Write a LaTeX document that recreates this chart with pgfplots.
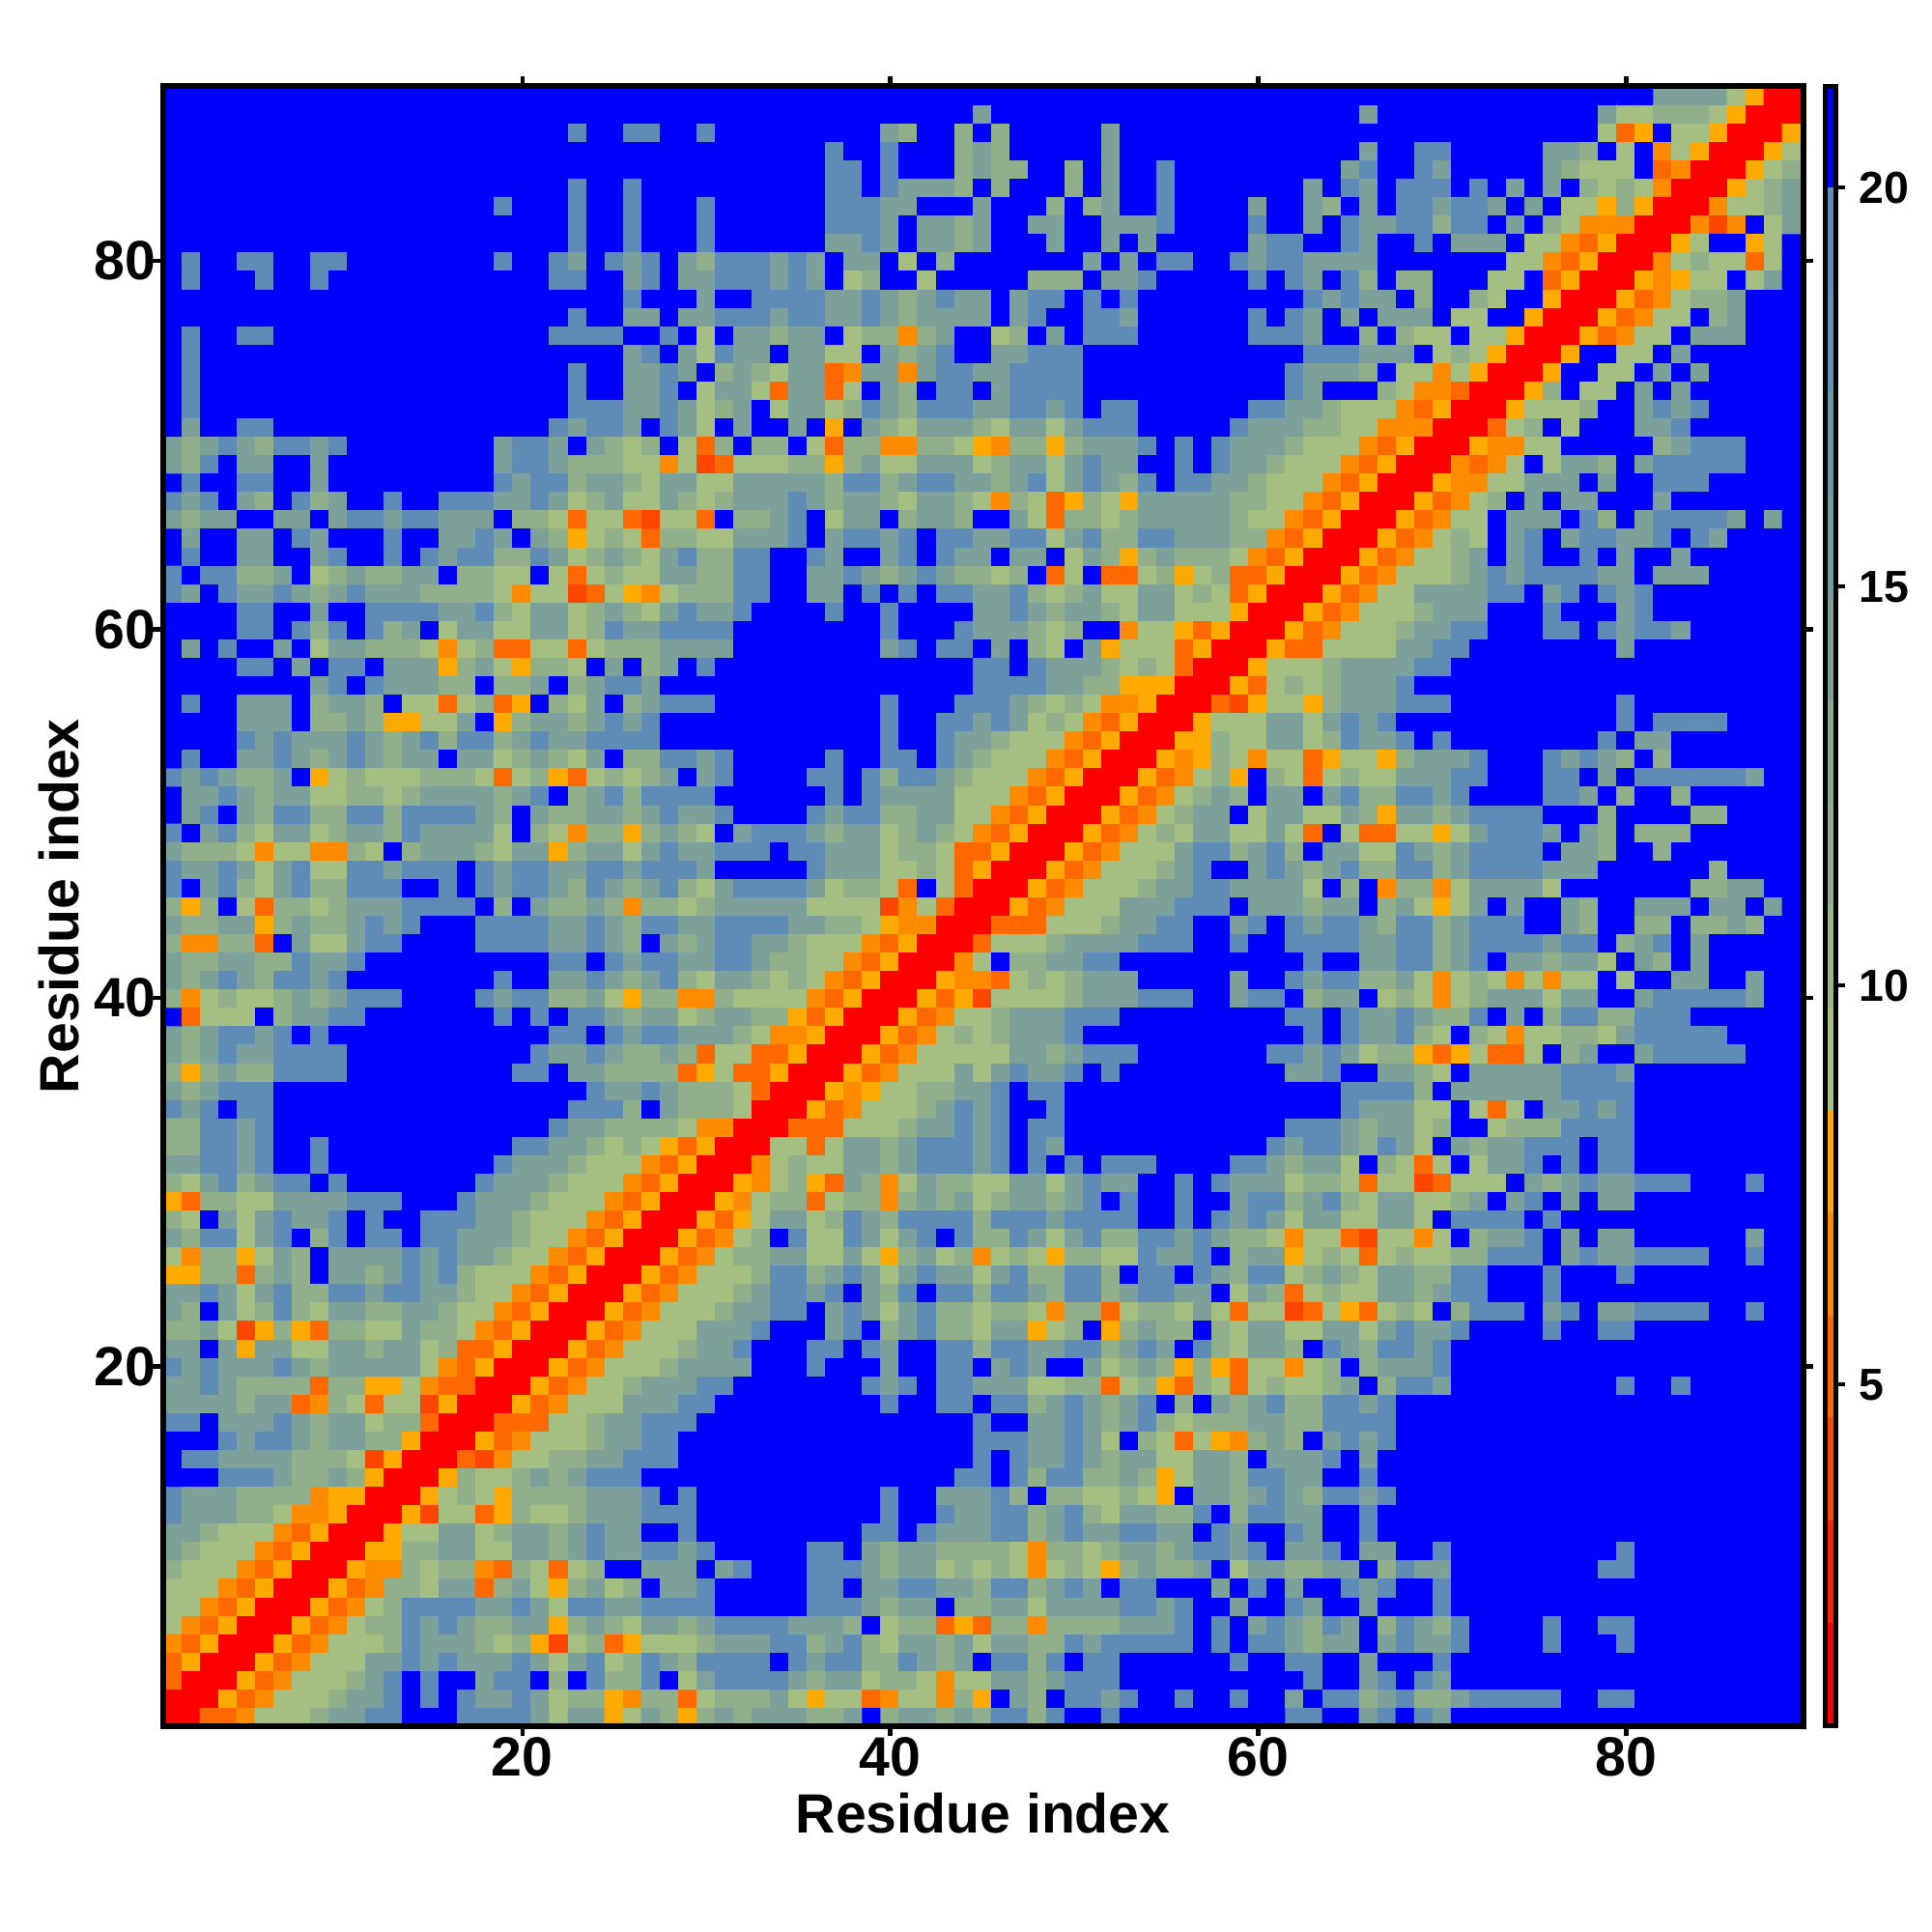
\documentclass[border=0pt]{standalone}
\usepackage{fontspec}
\usepackage{pgfplots}
\pgfplotsset{compat=1.18}
\setmainfont{Liberation Sans}
\newfontfamily\labfont{Liberation Sans Bold}
\newcount\cx \newcount\cy \newcount\limc \cy=89
\newtoks\rowtoks \newtoks\alltoks
\def\addcell#1{\advance\cx 1 \edef\tmpa{\the\rowtoks\the\cx\space\the\cy\space#1\noexpand\\}\rowtoks\expandafter{\tmpa}}
\def\scan#1 {\ifx @#1\else\ifnum\cx<\limc\addcell{#1}\fi\expandafter\scan\fi}
\def\pad{\ifnum\cx<\limc\addcell{9}\expandafter\pad\fi}
\def\doblock#1#2{\limc=#2\relax\scan#1 @ \pad}
\def\R#1#2#3{\cx=0 \rowtoks={}\doblock{#1}{30}\doblock{#2}{60}\doblock{#3}{89}\edef\tmpb{\the\rowtoks\the\alltoks}\alltoks\expandafter{\tmpb}\advance\cy -1 }
% values: classes 0 (nearest) ... 9 (farthest); rows from residue 89 down to residue 1
\R{9 9 9 9 9 9 9 9 9 9  9 9 9 9 9 9 9 9 9 9  9 9 9 9 9 9 9 9 9 9}{9 9 9 9 9 9 9 9 9 9  9 9 9 9 9 9 9 9 9 9  9 9 9 9 9 9 9 9 9 9}{9 9 9 9 9 9 9 9 9 9  9 9 9 9 9 9 9 9 9 9  9 7 7 7 7 5 4 0 0}
\R{9 9 9 9 9 9 9 9 9 9  9 9 9 9 9 9 9 9 9 9  9 9 9 9 9 9 9 9 9 9}{9 9 9 9 9 9 9 9 9 9  9 9 9 9 7 9 9 9 9 9  9 9 9 9 9 9 9 9 9 9}{9 9 9 9 9 7 9 9 9 9  9 9 9 9 9 9 9 9 7 5  5 6 6 6 5 4 0 0 0}
\R{9 9 9 9 9 9 9 9 9 9  9 9 9 9 9 9 9 9 9 9  9 9 8 9 9 8 8 9 9 8}{9 9 9 9 9 9 9 9 9 7  6 9 9 6 9 6 9 9 9 9  9 7 9 9 9 9 9 9 9 9}{9 9 9 9 9 9 9 9 9 9  9 9 9 9 9 9 9 9 5 2  4 9 5 5 4 0 0 0 4}
\R{9 9 9 9 9 9 9 9 9 9  9 9 9 9 9 9 9 9 9 9  9 9 9 9 9 9 9 9 9 9}{9 9 9 9 9 9 8 9 9 8  9 9 9 6 7 6 9 9 9 9  9 7 9 9 9 9 9 9 9 9}{9 9 9 9 9 7 9 9 8 8  9 9 9 9 9 7 7 6 9 5  9 3 5 4 0 0 0 4 5}
\R{9 9 9 9 9 9 9 9 9 9  9 9 9 9 9 9 9 9 9 9  9 9 9 9 9 9 9 9 9 9}{9 9 9 9 9 9 8 8 9 8  9 9 9 6 7 6 6 9 9 6  9 7 9 9 8 9 9 9 9 9}{9 9 9 9 7 8 9 9 8 7  9 9 9 9 9 7 6 5 5 5  9 2 3 0 0 0 4 5 6}
\R{9 9 9 9 9 9 9 9 9 9  9 9 9 9 9 9 9 9 9 9  9 9 8 9 9 8 9 9 9 9}{9 9 9 9 9 9 8 8 9 8  7 7 7 6 9 6 9 9 9 6  9 7 9 9 8 9 9 9 9 9}{9 9 7 9 8 7 9 8 8 8  9 8 9 7 9 7 9 6 5 6  5 3 0 0 0 4 5 6 7}
\R{9 9 9 9 9 9 9 9 9 9  9 9 9 9 9 9 9 9 8 9  9 9 8 9 9 8 9 9 9 8}{9 9 9 9 9 9 8 8 8 7  7 9 9 9 7 9 9 9 6 9  6 7 9 9 8 9 9 9 9 7}{9 9 7 6 9 7 9 8 8 7  8 8 7 9 7 9 5 5 4 6  4 0 0 0 3 5 5 6 7}
\R{9 9 9 9 9 9 9 9 9 9  9 9 9 9 9 9 9 9 9 9  9 9 8 9 9 8 9 9 9 8}{9 9 9 9 9 9 8 8 8 7  9 7 7 6 7 9 9 7 7 9  9 7 7 7 8 9 9 9 9 8}{9 9 7 9 8 7 7 8 8 6  8 8 9 7 9 6 5 3 3 3  0 0 0 3 1 3 9 5 7}
\R{9 9 9 9 9 9 9 9 9 9  9 9 9 9 9 9 9 9 9 9  9 9 8 9 9 8 9 9 9 8}{9 9 9 9 9 9 7 7 8 7  9 7 7 6 7 9 9 9 7 9  9 7 9 7 9 9 9 9 9 7}{8 8 9 9 8 7 9 9 8 9  7 7 7 9 5 5 3 2 4 0  0 0 4 5 9 9 4 5 9}
\R{9 8 9 9 8 8 9 9 8 8  9 9 9 9 9 9 9 9 8 9  9 8 7 9 8 7 8 9 7 6}{8 8 8 7 8 7 9 7 7 9  5 9 6 9 9 9 9 9 9 9  7 9 7 9 8 8 9 9 8 7}{8 8 7 7 7 7 9 9 9 9  9 9 9 5 5 3 2 4 0 0  0 3 5 6 5 5 2 5 9}
\R{9 8 9 9 9 8 9 9 8 9  9 9 9 9 9 9 9 9 9 9  9 8 8 9 9 7 8 9 7 7}{8 8 8 7 8 7 9 5 6 9  9 5 9 9 9 9 9 6 6 6  9 7 7 8 9 9 9 9 9 8}{9 8 7 9 8 6 9 6 6 9  9 9 5 5 9 2 4 0 0 0  4 3 4 5 5 9 5 7 9}
\R{9 9 9 9 9 9 9 9 9 9  9 9 9 9 9 9 9 9 9 9  9 9 9 9 9 8 9 9 9 7}{9 9 8 8 8 8 7 7 8 7  6 7 8 7 7 9 7 8 8 9  8 9 8 9 9 9 9 9 9 9}{9 9 8 7 8 7 7 9 6 9  9 6 5 9 9 4 0 0 0 4  2 3 5 6 6 7 9 9 9}
\R{9 9 9 9 9 9 9 9 9 9  9 9 9 9 9 9 9 9 9 9  9 9 8 9 9 7 7 9 7 7}{8 8 8 7 8 8 7 7 8 7  6 7 7 7 7 9 7 8 9 9  8 8 7 9 9 9 9 9 9 8}{9 8 7 9 7 9 7 7 7 9  5 5 9 9 4 0 0 0 4 2  3 5 5 9 6 7 9 9 9}
\R{9 8 9 9 8 8 9 9 9 9  9 9 9 9 9 9 9 9 9 9  9 8 8 8 8 9 9 8 9 5}{9 7 7 6 7 7 9 5 6 6  3 6 7 9 9 5 6 9 7 9  8 8 8 9 9 9 9 9 9 8}{8 8 7 9 9 6 9 6 5 5  9 5 5 4 0 0 0 4 2 3  5 5 9 7 7 7 9 9 9}
\R{9 8 9 9 9 9 9 9 9 9  9 9 9 9 9 9 9 9 9 9  9 9 9 9 9 7 8 9 7 5}{8 7 7 9 7 7 5 5 9 7  6 7 8 9 9 7 7 8 8 8  9 9 9 9 9 9 9 9 9 9}{9 9 8 8 8 7 7 7 9 5  6 5 4 0 0 0 4 9 9 5  5 9 7 9 9 9 9 9 9}
\R{9 8 9 9 9 9 9 9 9 9  9 9 9 9 9 9 9 9 9 9  9 9 8 9 9 7 7 8 7 9}{6 7 6 5 7 7 2 3 7 7  3 7 8 8 7 7 8 8 8 8  9 9 9 9 9 9 9 9 9 9}{9 8 7 7 7 6 9 5 5 3  5 4 0 0 0 4 9 9 5 5  9 7 9 7 9 9 9 9 9}
\R{9 8 9 9 9 9 9 9 9 9  9 9 9 9 9 9 9 9 9 9  9 9 8 9 9 7 7 8 9 5}{7 7 5 2 7 7 2 5 9 7  6 9 8 8 9 7 8 8 8 8  9 9 9 9 9 9 9 9 9 9}{9 8 7 9 9 9 6 5 3 3  2 0 0 0 4 6 9 5 5 9  7 9 7 9 9 9 9 9 9}
\R{9 8 9 9 9 9 9 9 9 9  9 9 9 9 9 9 9 9 9 9  9 9 8 8 8 7 7 8 7 5}{6 7 9 5 7 7 5 6 8 7  6 8 8 8 7 7 8 8 7 8  9 8 8 9 9 9 9 9 9 8}{8 7 7 6 5 5 5 3 2 4  0 0 0 4 5 5 5 6 9 9  7 8 7 8 9 9 9 9 9}
\R{9 7 9 9 8 8 9 9 9 9  9 9 9 9 9 9 9 9 9 9  9 8 7 8 8 7 9 8 7 5}{9 7 9 9 7 9 4 9 7 6  5 7 7 7 6 5 7 7 5 7  8 8 8 9 9 9 9 9 8 7}{7 7 6 6 5 5 3 3 3 0  0 0 2 5 6 9 5 9 9 9  7 7 8 9 9 9 9 9 9}
\R{7 6 7 8 7 6 8 8 7 8  9 9 9 9 9 9 9 9 7 8  8 7 9 7 6 5 6 9 5 2}{6 9 6 6 9 5 2 6 6 3  3 6 6 5 4 3 6 6 4 6  7 7 7 8 9 8 9 8 7 7}{7 6 5 5 5 3 2 4 0 0  0 4 3 3 5 5 9 9 9 9  9 6 7 8 8 8 9 9 9}
\R{7 6 8 9 7 7 9 9 7 9  9 9 9 9 9 9 9 9 7 8  8 7 6 6 6 5 5 3 5 1}{2 5 5 5 6 6 4 6 7 5  5 7 7 7 5 6 7 7 5 7  8 7 7 9 9 8 9 8 7 7}{6 5 5 5 3 2 4 0 0 0  3 2 3 5 9 5 7 7 6 9  7 8 8 8 8 8 9 9 9}
\R{9 8 9 9 8 8 9 9 7 9  9 9 9 9 9 9 9 9 8 7  8 8 6 7 7 6 5 7 7 5}{5 7 7 7 7 7 6 8 8 6  7 8 8 7 7 6 7 8 5 7  8 7 6 8 9 8 8 7 7 6}{5 5 5 3 2 4 0 0 0 4  3 3 5 5 7 7 7 9 7 9  9 8 8 8 9 9 9 9 9}
\R{8 7 8 9 7 6 9 8 6 7  9 9 8 9 9 8 8 8 7 7  8 7 5 6 7 5 5 7 6 5}{6 7 7 7 8 7 6 7 7 6  5 7 7 6 5 3 6 5 2 4  6 5 4 7 7 7 7 7 6 6}{5 5 3 2 4 0 0 0 4 2  3 5 6 9 7 9 7 7 9 9  9 7 9 9 9 9 9 9 9}
\R{7 6 7 7 9 9 7 7 9 7  8 8 7 8 8 7 7 7 9 6  6 5 2 5 5 2 1 5 5 2}{9 6 6 7 8 9 5 7 7 9  6 7 7 6 9 9 7 5 2 6  6 5 6 7 7 7 7 7 6 5}{5 3 2 4 0 0 0 4 2 3  5 5 9 7 7 7 9 8 6 9  7 8 8 8 8 7 9 7 9}
\R{9 7 9 9 7 7 9 8 7 9  9 9 8 9 9 7 7 8 7 9  7 6 4 5 6 5 2 6 6 5}{5 7 7 7 8 9 7 8 8 7  8 9 8 8 7 7 8 8 5 7  8 6 6 8 8 7 7 7 6 6}{3 2 4 0 0 0 4 2 3 5  6 5 9 7 8 9 7 8 8 7  7 8 9 8 7 9 9 9 9}
\R{9 8 9 9 7 7 9 9 7 8  9 9 8 9 8 7 8 8 6 6  8 7 5 6 7 6 5 7 8 6}{6 8 8 9 9 8 7 9 9 7  8 9 8 7 7 9 7 7 9 5  7 6 4 6 7 6 6 6 5 3}{2 4 0 0 0 4 2 3 5 5  6 7 9 7 8 9 9 8 9 7  9 9 7 9 9 9 9 9 9}
\R{8 9 8 8 6 6 7 9 5 6  7 6 6 7 7 9 6 6 5 5  9 5 2 5 6 5 5 7 7 6}{6 8 8 9 9 7 7 8 7 6  7 8 7 6 6 5 6 9 2 5  9 2 2 5 6 4 5 6 2 2}{4 0 0 0 4 2 3 5 5 5  6 7 8 7 8 8 8 8 7 7  9 7 7 7 9 9 9 9 9}
\R{8 7 9 8 7 7 8 7 6 7  8 7 7 7 6 6 6 6 5 3  5 5 1 2 5 4 3 5 6 6}{6 8 8 9 9 7 7 9 8 9  8 9 8 8 7 7 8 6 5 6  7 5 5 7 7 5 6 5 2 4}{0 0 0 4 2 3 5 5 7 7  7 7 8 8 9 7 8 9 8 7  8 9 9 9 9 9 9 9 9}
\R{9 9 9 9 8 8 9 9 7 9  9 8 8 8 8 7 7 8 6 5  7 7 5 6 7 6 5 7 8 7}{7 8 9 9 9 9 8 9 9 8  9 9 9 9 7 7 8 7 6 7  7 6 5 7 7 5 5 5 4 0}{0 0 4 2 3 5 5 5 6 7  7 7 9 9 9 8 9 9 9 7  8 9 9 9 9 9 9 9 9}
\R{9 9 9 9 8 8 9 8 6 8  9 8 6 7 9 5 7 7 5 5  7 7 5 6 8 7 7 8 8 8}{8 9 9 9 9 9 9 9 9 8  9 9 9 8 7 7 7 6 5 6  9 9 3 5 5 4 2 4 0 0}{0 4 2 3 5 5 5 6 7 7  8 8 9 9 9 8 8 9 8 7  8 8 7 9 9 9 9 9 9}
\R{9 7 9 8 9 9 7 9 5 7  7 6 6 6 5 3 5 6 2 2  5 5 2 5 6 6 6 7 7 7}{7 9 9 9 9 9 9 9 9 7  8 9 8 8 9 7 9 6 5 9  7 4 5 5 5 2 4 0 0 0}{4 2 2 5 5 5 5 7 7 8  8 9 9 9 9 9 9 9 9 7  9 9 9 9 9 9 9 9 9}
\R{9 9 9 9 8 8 9 7 9 8  8 9 7 7 7 4 6 7 5 4  6 6 5 9 7 9 6 7 9 8}{9 9 9 9 9 9 9 9 9 9  9 9 9 9 8 8 9 8 7 7  7 6 5 6 5 2 0 0 0 4}{5 5 5 6 7 7 7 7 8 8  9 9 9 9 9 9 9 9 9 9  9 9 9 9 9 9 9 9 9}
\R{9 9 9 9 9 9 9 9 7 8  9 8 7 7 7 6 6 9 6 6  7 9 6 7 8 8 7 9 9 9}{9 9 9 9 9 9 9 9 9 9  9 9 9 9 8 8 8 8 7 7  6 6 4 4 4 0 0 0 4 2}{5 6 5 6 7 7 7 8 9 9  9 9 9 9 9 9 9 9 9 9  9 9 9 9 9 9 9 9 9}
\R{9 8 9 9 7 7 7 9 6 7  7 6 9 5 5 2 5 6 2 4  9 6 5 7 9 6 7 8 8 8}{9 9 9 9 9 9 9 9 9 8  9 9 9 8 8 8 7 6 5 6  5 3 3 4 0 0 0 2 1 4}{5 5 4 6 7 7 7 8 8 8  9 9 9 9 9 9 9 9 9 8  9 9 9 9 9 9 9 9 9}
\R{9 9 9 9 7 7 7 9 6 6  7 6 4 4 5 5 7 9 4 6  7 7 6 7 8 7 8 9 9 9}{9 9 9 9 9 9 9 9 9 8  9 9 8 8 7 8 7 5 6 5  3 2 4 0 0 0 4 5 5 5}{7 7 5 7 8 7 8 9 9 9  9 9 9 9 9 9 9 9 9 8  9 8 8 8 8 9 9 9 9}
\R{9 9 9 9 8 7 8 7 7 7  8 7 6 7 8 6 8 8 6 7  8 7 7 8 8 8 8 9 9 9}{9 9 9 9 9 9 9 9 9 8  9 9 8 7 7 6 5 5 5 3  2 4 0 0 0 4 4 6 5 5}{7 7 5 6 8 7 7 8 9 8  9 9 9 9 9 9 9 9 8 9  7 7 9 9 9 9 9 9 9}
\R{9 8 9 9 7 7 8 7 6 7  8 7 6 7 7 9 7 7 5 6  7 6 5 7 9 6 6 8 8 7}{8 9 9 9 9 9 8 9 9 8  8 9 8 7 6 5 5 5 3 2  4 0 0 0 4 3 4 6 5 3}{5 5 2 4 5 5 4 6 7 7  7 8 9 9 9 8 7 8 7 6  9 6 9 9 9 9 9 9 9}
\R{8 7 8 7 6 6 7 9 4 5  6 5 5 5 6 6 6 5 2 5  6 4 2 5 6 5 6 7 9 7}{8 9 9 9 9 8 8 9 8 6  8 8 7 6 5 5 5 3 2 4  0 0 0 4 2 3 5 6 4 9}{6 5 2 5 6 5 5 7 7 7  8 8 9 9 9 8 8 9 7 9  8 8 8 8 8 8 7 9 9}
\R{9 7 7 8 7 6 7 7 5 5  6 6 5 6 7 7 7 7 6 7  8 9 6 7 8 6 8 8 8 8}{9 9 9 9 9 9 8 9 8 7  7 7 7 5 5 5 3 2 4 0  0 0 4 2 3 5 6 7 6 9}{7 7 9 7 8 6 6 8 8 7  8 9 9 9 9 8 8 7 9 6  9 9 6 9 9 9 9 9 9}
\R{9 7 8 9 7 6 8 8 6 6  8 8 6 8 8 8 8 7 6 9  7 6 6 7 7 6 7 8 7 7}{8 9 9 9 9 8 7 8 8 6  6 7 7 5 5 3 2 4 0 0  0 4 2 3 5 6 7 7 9 5}{7 7 5 5 7 6 4 7 7 6  7 8 8 8 8 9 9 9 6 9  9 9 9 6 6 9 9 9 9}
\R{8 9 7 8 6 5 7 7 5 6  7 7 6 8 7 7 7 7 5 9  6 5 3 6 6 4 6 7 6 5}{9 7 8 8 8 7 6 7 7 5  6 7 6 5 3 2 4 0 0 0  4 2 3 5 6 5 7 7 5 5}{7 5 2 9 5 2 2 5 5 4  5 7 8 8 8 7 9 7 6 9  6 6 6 9 9 9 9 9 9}
\R{7 6 6 6 5 3 5 5 3 3  6 5 9 6 7 7 7 6 5 7  7 4 6 7 7 5 7 8 7 7}{8 8 8 9 8 8 7 7 7 5  6 6 5 2 2 4 0 0 0 4  2 3 5 5 5 7 8 8 6 7}{8 6 9 7 7 5 5 8 7 6  7 8 8 8 8 9 7 7 6 9  9 6 9 9 9 9 9 9 9}
\R{8 7 7 8 7 5 7 8 5 5  8 8 7 8 8 8 9 8 7 8  8 7 7 8 8 7 8 8 8 7}{9 9 9 9 9 8 7 7 7 5  5 6 5 2 4 0 0 0 4 2  3 5 5 5 6 7 8 9 9 7}{8 7 6 7 8 6 6 8 8 6  7 8 8 8 8 7 7 7 9 9  9 9 9 9 6 9 9 9 9}
\R{8 9 7 8 6 5 7 8 6 6  8 8 8 9 9 8 9 8 7 8  8 7 6 8 7 6 7 8 6 5}{7 8 8 8 8 7 5 6 6 5  2 9 5 2 0 0 0 4 2 3  5 5 5 6 7 7 8 8 7 7}{7 7 5 9 6 9 3 6 6 3  5 7 7 7 7 5 9 9 9 9  9 9 9 6 6 7 7 9 9}
\R{6 4 6 9 5 2 6 6 5 6  7 7 7 8 8 8 8 9 6 9  7 6 6 7 6 3 6 6 5 6}{7 7 7 7 7 5 5 5 5 1  3 5 2 0 0 0 4 2 3 5  5 5 7 7 7 8 8 8 9 7}{7 7 6 7 7 9 6 7 5 4  5 7 9 7 9 9 7 6 9 9  7 7 7 9 7 7 9 7 9}
\R{7 6 6 7 7 4 6 7 6 6  7 8 7 8 9 9 9 8 8 8  8 7 7 8 7 6 8 8 7 7}{8 8 8 8 7 7 6 6 5 4  3 3 0 0 0 2 2 2 5 5  5 6 7 7 8 8 9 9 7 8}{9 8 7 8 8 7 6 8 8 6  7 8 8 8 9 9 7 6 9 9  6 6 9 6 6 7 6 9 9}
\R{6 3 3 6 6 2 9 7 5 5  7 8 8 9 9 9 9 8 8 8  8 7 7 8 7 6 9 7 6 7}{8 8 7 7 6 5 5 5 3 2  4 0 0 0 2 5 5 5 6 7  7 7 7 8 8 8 9 9 8 9}{9 8 8 8 8 7 7 8 8 6  7 8 8 8 8 7 8 8 9 6  7 8 9 7 9 9 9 9 9}
\R{7 6 6 7 7 6 6 8 7 7  8 9 9 9 9 9 9 9 9 9  9 8 8 9 8 7 8 8 7 7}{8 8 7 6 6 5 5 3 2 4  0 0 0 3 5 9 6 6 7 7  8 8 9 9 9 9 9 9 9 9}{9 9 8 9 9 7 7 8 8 6  7 8 9 7 7 6 7 7 5 9  7 6 9 7 9 9 9 9 9}
\R{7 6 7 8 7 6 8 8 7 8  9 9 9 9 9 9 9 9 8 9  9 7 7 8 7 6 7 8 6 5}{7 7 6 5 6 5 3 2 4 0  0 0 4 3 3 2 5 6 5 6  7 7 7 9 9 9 9 9 7 9}{9 8 7 8 8 6 6 7 5 3  5 6 5 3 5 3 5 5 9 5  9 9 7 7 9 9 7 9 9}
\R{6 3 5 6 5 5 6 7 6 7  8 8 8 9 9 9 9 8 7 8  8 6 6 7 5 4 6 6 3 3}{6 5 5 5 5 3 2 4 0 0  0 4 2 4 1 5 5 5 5 6  7 7 7 8 8 8 9 9 7 8}{8 9 6 7 7 9 5 6 5 3  5 6 7 7 7 5 7 7 9 9  7 8 8 8 8 8 7 9 9}
\R{9 2 5 5 5 9 6 7 7 8  8 9 9 9 9 9 9 9 8 9  8 9 8 8 7 6 7 7 5 6}{7 7 6 6 4 2 4 0 0 0  4 2 3 5 5 6 7 7 7 8  8 8 9 9 9 9 9 9 9 9}{9 8 8 9 8 7 7 8 7 6  6 8 9 7 9 6 8 8 6 6  8 8 8 9 9 9 9 9 9}
\R{7 6 7 8 8 7 8 9 8 9  9 9 9 9 9 9 9 9 9 9  9 8 8 9 8 7 8 8 7 7}{7 6 5 3 3 4 0 0 0 4  2 3 5 6 5 6 7 7 7 8  9 9 9 9 9 9 9 9 9 9}{9 9 8 9 8 7 7 8 6 5  9 6 5 3 5 5 6 6 5 7  8 8 8 8 8 9 9 9 9}
\R{7 6 7 8 7 7 8 8 8 8  9 9 9 9 9 9 9 9 9 9  8 7 7 8 7 6 6 7 6 2}{5 5 2 2 4 0 0 0 4 2  3 5 5 5 5 5 7 7 6 7  8 8 8 9 9 9 9 9 9 9}{8 8 7 8 7 5 6 6 4 2  4 5 2 2 5 9 6 7 9 9  7 8 8 8 8 8 9 9 9}
\R{6 4 6 7 6 6 8 8 8 8  9 9 9 9 9 9 9 9 9 8  8 9 7 7 6 6 6 6 2 4}{5 2 2 4 0 0 0 4 2 3  5 5 5 7 5 7 8 7 7 8  9 8 9 9 9 9 9 9 9 9}{9 7 7 8 9 9 7 7 6 5  9 7 7 7 7 7 8 8 8 7  9 9 9 9 9 9 9 9 9}
\R{7 6 7 8 8 8 9 9 9 9  9 9 9 9 9 9 9 9 9 9  9 9 9 8 7 7 8 7 6 6}{6 5 2 0 0 0 4 3 4 5  5 6 6 7 7 8 9 8 8 9  9 9 9 9 9 9 9 9 9 9}{9 9 9 9 8 8 8 8 6 9  7 7 7 7 7 7 8 8 8 8  9 9 9 9 9 9 9 9 9}
\R{8 7 8 9 8 8 9 9 9 9  9 9 9 9 9 9 9 9 9 9  9 9 8 8 8 6 9 7 6 6}{6 5 0 0 0 4 2 3 5 5  5 6 7 8 7 8 9 9 8 9  9 9 9 9 9 9 9 9 9 9}{9 9 9 9 8 7 7 7 5 5  9 5 2 5 9 7 7 8 7 8  9 9 9 9 9 9 9 9 9}
\R{6 6 8 8 7 8 9 9 9 9  9 9 9 9 9 9 9 9 9 9  9 8 7 7 6 6 6 6 5 3}{3 0 0 0 2 2 2 5 5 5  6 7 7 8 7 8 9 8 8 9  9 9 9 9 9 9 9 9 9 9}{9 8 8 8 7 6 7 7 5 6  9 9 5 6 6 6 8 8 8 8  9 9 9 9 9 9 9 9 9}
\R{6 6 8 8 7 8 9 9 8 9  9 9 9 9 9 9 9 9 9 8  8 7 7 6 5 6 5 4 2 4}{0 0 0 5 5 2 5 7 7 6  7 8 8 8 7 8 9 8 7 9  9 9 9 9 9 9 9 9 9 9}{8 7 8 8 7 6 8 7 5 9  7 6 7 7 8 8 8 9 8 8  9 9 9 9 9 9 9 9 9}
\R{7 7 8 8 7 8 9 9 8 9  9 9 9 9 9 9 9 9 8 7  7 7 6 5 5 5 3 2 4 0}{0 0 3 5 6 5 5 7 7 6  7 8 8 8 7 8 9 8 9 8  9 8 8 8 9 9 9 9 8 8}{7 6 7 7 5 9 6 5 2 5  9 5 7 7 8 9 8 9 8 8  9 9 9 9 9 9 9 9 9}
\R{6 5 7 8 6 7 8 8 9 8  9 9 9 9 9 9 9 8 7 7  7 6 5 5 5 3 2 4 0 0}{0 4 3 5 6 4 2 7 6 3  5 7 6 6 5 5 7 7 5 7  8 7 7 9 9 8 9 8 7 7}{7 5 6 6 5 2 5 5 1 2  5 5 5 9 7 6 7 8 7 7  8 8 8 9 9 9 8 9 9}
\R{4 2 6 6 5 5 7 7 7 7  8 8 8 9 9 9 8 7 7 7  6 5 5 5 3 2 4 0 0 0}{4 3 5 6 6 2 5 6 6 3  6 7 6 7 5 6 7 7 6 7  8 9 8 9 9 8 9 9 7 8}{8 6 7 8 6 5 7 7 5 5  6 7 9 7 8 9 7 9 7 7  9 9 9 9 9 9 9 9 9}
\R{6 5 9 7 5 7 8 7 7 8  9 8 9 9 8 8 8 7 7 6  5 5 5 3 2 4 0 0 0 4}{2 4 5 7 7 5 6 8 7 6  8 8 8 8 6 8 8 8 7 8  8 8 8 9 9 8 9 8 7 8}{7 5 7 7 5 5 7 7 5 9  8 8 8 8 9 8 9 9 9 9  9 9 9 9 9 9 9 9 9}
\R{7 6 8 8 5 7 8 9 6 8  9 8 8 9 8 8 7 7 7 6  5 5 3 2 4 0 0 0 4 2}{3 5 6 9 8 5 5 8 7 5  7 8 9 8 6 6 8 7 5 7  8 6 6 8 8 7 8 7 6 6}{5 3 5 5 2 1 5 5 3 5  9 6 7 7 8 9 7 9 7 7  9 9 9 9 9 9 7 9 9}
\R{5 3 6 6 4 5 7 6 9 7  7 7 7 8 7 8 7 7 6 5  5 3 2 4 0 0 0 4 2 3}{5 6 6 7 7 5 5 7 5 4  6 7 5 6 3 5 6 5 4 6  6 5 5 8 7 7 8 9 6 7}{7 4 5 6 5 2 5 6 5 5  6 6 8 8 8 9 7 8 7 7  8 8 8 8 9 9 8 9 9}
\R{4 4 6 6 2 6 7 6 9 7  7 6 7 8 7 8 6 5 5 5  3 2 4 0 0 0 4 2 3 5}{5 5 6 8 8 6 7 8 7 5  7 8 7 7 5 7 8 6 6 8  8 6 9 8 8 9 8 7 6 8}{8 5 6 7 6 5 7 7 6 6  8 8 9 9 9 8 9 9 9 8  9 9 9 9 9 9 9 9 9}
\R{7 7 8 7 5 7 8 6 6 8  8 7 8 8 7 7 6 5 5 3  2 4 0 0 0 4 2 3 5 5}{5 6 7 8 8 7 8 9 7 6  8 9 8 8 6 8 8 7 6 8  8 6 7 8 8 7 7 9 5 7}{6 2 5 6 5 5 7 7 6 7  8 8 9 9 9 8 9 9 9 9  9 9 9 9 9 9 9 9 9}
\R{7 6 9 7 5 6 8 6 5 7  7 6 6 7 7 6 5 5 3 2  4 0 0 0 4 2 3 5 5 5}{6 7 7 8 8 9 7 8 7 5  7 8 6 6 5 6 6 5 3 6  6 2 5 6 6 5 7 5 2 5}{5 1 2 5 4 2 5 6 5 9  6 8 8 8 9 7 8 9 7 7  8 8 8 8 9 9 8 9 9}
\R{6 6 7 5 1 4 6 4 2 6  6 5 5 7 6 6 5 3 2 4  0 0 0 4 2 3 5 5 5 7}{7 7 8 9 9 9 7 8 9 6  7 8 6 6 5 7 7 4 5 6  9 4 6 7 6 6 9 6 5 7}{7 5 5 7 7 5 7 8 7 7  8 9 9 9 9 8 9 9 8 8  9 9 9 9 9 9 9 9 9}
\R{7 7 9 7 4 7 7 5 5 7  7 6 7 7 5 6 2 2 4 0  0 0 4 2 3 5 5 5 6 7}{7 8 9 9 9 8 8 9 8 7  9 9 8 8 6 8 8 7 7 8  8 6 7 8 7 9 8 6 5 7}{7 6 9 8 7 6 8 8 7 8  9 9 9 9 9 9 9 9 9 9  9 9 9 9 9 9 9 9 9}
\R{8 7 8 7 7 7 8 7 6 7  7 7 7 7 5 3 2 4 0 0  0 4 2 3 5 5 5 6 7 7}{7 7 9 9 9 8 9 9 9 7  9 9 8 8 9 7 8 7 9 9  7 5 6 7 6 4 6 4 2 5}{5 3 5 6 9 6 7 7 7 8  9 9 9 9 9 9 9 9 9 9  9 9 9 9 9 9 9 9 9}
\R{7 7 8 7 6 6 6 6 2 6  6 4 4 5 3 2 2 0 0 0  4 2 3 5 5 6 7 7 7 8}{8 9 9 9 9 9 9 9 8 7  8 9 8 8 7 7 7 5 5 6  6 2 5 6 4 2 6 5 2 5}{6 5 5 6 7 9 6 8 8 7  9 9 9 9 9 9 9 9 9 8  9 9 8 9 9 9 9 9 9}
\R{7 7 7 7 6 7 7 2 3 6  5 2 5 5 1 4 0 0 0 4  2 3 5 5 5 7 7 7 8 8}{9 9 9 9 9 9 9 9 9 8  9 9 8 8 9 8 8 6 7 8  7 6 7 8 9 6 9 7 6 7}{8 6 6 8 8 7 8 9 9 9  9 9 9 9 9 9 9 9 9 9  9 9 9 9 9 9 9 9 9}
\R{8 8 9 7 7 7 8 7 6 7  7 5 6 6 2 0 0 0 2 2  2 5 5 6 7 7 8 8 8 9}{9 9 9 9 9 9 9 9 9 9  9 9 9 9 8 9 9 7 7 8  7 6 7 8 6 5 6 6 6 7}{7 6 6 8 8 8 8 9 9 9  9 9 9 9 9 9 9 9 9 9  9 9 9 9 9 9 9 9 9}
\R{9 9 9 8 7 8 8 7 6 7  7 6 6 4 0 0 0 4 2 3  5 5 5 6 7 7 8 8 9 9}{9 9 9 9 9 9 9 9 9 9  9 9 9 9 8 8 8 7 7 8  7 5 9 6 5 2 5 4 3 6}{7 6 9 7 8 7 8 9 9 9  9 9 9 9 9 9 9 9 9 9  9 9 9 9 9 9 9 9 9}
\R{9 8 8 7 7 7 7 6 6 6  5 1 4 0 0 0 2 1 3 5  5 6 6 7 7 8 8 8 9 9}{9 9 9 9 9 9 9 9 9 9  9 9 9 9 8 9 8 7 7 8  7 6 7 7 5 5 7 7 6 9}{7 7 7 8 9 7 9 9 9 9  9 9 9 9 9 9 9 9 9 9  9 9 9 9 9 9 9 9 9}
\R{9 9 9 8 8 8 7 6 6 7  6 4 0 0 0 4 6 5 5 6  7 6 7 8 8 8 9 9 9 9}{9 9 9 9 9 9 9 9 9 9  9 9 9 8 8 9 8 6 8 8  6 6 7 6 4 5 7 7 6 8}{8 7 7 9 9 8 9 9 9 9  9 9 9 9 9 9 9 9 9 9  9 9 9 9 9 9 9 9 9}
\R{8 7 7 7 6 6 6 6 3 4  4 0 0 0 4 5 6 5 4 6  6 6 6 7 7 7 8 9 8 9}{9 9 9 9 9 9 9 9 9 8  9 9 7 7 7 8 6 9 6 6  5 5 6 5 4 9 7 7 6 7}{8 7 6 8 8 7 8 9 9 9  9 9 9 9 9 9 9 9 9 9  9 9 9 9 9 9 9 9 9}
\R{8 7 7 7 6 6 5 3 3 4  0 0 0 4 1 5 5 2 4 6  5 5 6 7 7 7 8 8 8 9}{9 9 9 9 9 9 9 9 9 8  9 9 8 7 7 8 8 6 7 8  6 5 7 7 6 6 8 9 6 8}{8 7 7 9 9 8 9 9 9 9  9 9 9 9 9 9 9 9 9 9  9 9 9 9 9 9 9 9 9}
\R{7 7 6 5 5 5 3 2 4 0  0 0 4 5 5 7 7 5 6 7  7 6 7 8 7 7 9 9 8 9}{9 9 9 9 9 9 9 9 8 8  9 8 7 7 7 8 8 6 7 8  7 7 8 8 7 7 9 8 7 9}{9 8 7 9 9 8 9 9 9 9  9 9 9 9 9 9 9 9 9 9  9 9 9 9 9 9 9 9 9}
\R{7 6 5 5 5 3 2 4 0 0  0 4 4 6 6 7 7 5 5 7  7 6 7 8 7 7 8 8 7 8}{9 9 9 9 9 8 8 9 7 6  7 7 6 6 6 6 5 3 6 6  5 6 7 7 6 7 8 8 7 8}{9 7 7 8 9 7 7 9 9 8  9 9 9 9 9 9 9 9 9 8  9 9 9 9 9 9 9 9 9}
\R{6 5 5 5 3 2 4 0 0 0  4 3 3 6 5 6 6 3 2 6  5 2 5 6 9 9 7 7 7 9}{7 8 9 9 9 8 8 8 7 6  7 7 5 6 5 6 5 3 5 6  5 4 6 7 6 6 7 9 5 7}{7 6 6 7 7 9 6 8 7 7  9 9 9 9 9 9 9 9 8 8  9 9 9 9 9 9 9 9 9}
\R{5 5 5 3 2 4 0 0 0 4  2 3 6 6 5 7 7 2 6 7  5 4 6 7 5 6 9 7 7 8}{9 9 9 9 9 8 8 9 7 7  8 8 7 7 6 8 8 6 7 8  7 9 8 8 9 9 9 7 9 8}{9 7 9 9 8 7 8 9 9 8  9 9 9 9 9 9 9 9 9 9  9 9 9 9 9 9 9 9 9}
\R{5 5 3 2 4 0 0 0 4 2  3 5 6 8 8 8 8 7 7 8  7 5 8 8 7 7 8 8 8 8}{9 9 9 9 9 8 8 8 7 6  7 7 9 6 6 7 7 5 7 7  7 7 8 8 7 8 9 9 7 9}{9 8 7 9 9 7 9 9 9 8  9 9 9 9 9 9 9 9 9 9  9 9 9 9 9 9 9 9 9}
\R{5 3 2 4 0 0 0 4 2 3  5 6 6 8 7 8 7 6 6 7  7 4 6 7 6 5 7 7 6 7}{8 8 8 8 7 7 7 6 9 5  6 6 2 4 2 6 6 3 6 6  6 6 7 7 7 8 9 8 9 7}{8 7 6 8 7 9 6 8 7 6  8 9 9 9 9 8 9 9 8 8  9 9 9 9 9 9 9 9 9}
\R{3 2 4 0 0 0 4 2 3 5  5 5 6 8 7 7 7 6 5 6  4 1 5 6 2 4 5 5 5 6}{7 7 7 8 8 6 7 8 6 5  7 7 6 7 5 7 7 6 6 8  7 8 8 8 8 8 9 8 9 8}{8 7 6 7 7 9 7 8 7 7  8 9 9 9 9 8 9 9 9 8  9 9 9 9 9 9 9 9 9}
\R{2 4 0 0 0 4 2 3 5 5  5 7 7 8 7 8 7 7 7 8  7 5 7 8 5 6 8 7 6 8}{8 8 8 9 8 7 8 8 6 6  8 7 6 7 9 8 8 6 8 9  8 8 9 9 9 9 9 9 8 9}{9 8 8 9 9 7 9 9 9 8  9 9 9 9 9 9 9 9 9 9  9 9 9 9 9 9 9 9 9}
\R{2 0 0 0 4 2 3 5 5 5  6 7 8 9 8 9 9 7 8 8  9 6 9 8 6 6 8 9 5 7}{8 8 8 8 7 6 7 7 5 6  6 5 3 5 5 7 7 6 7 8  8 8 9 9 9 9 9 9 9 9}{9 9 8 9 9 7 8 9 8 7  9 9 9 9 9 9 9 9 9 9  9 9 9 9 9 9 9 9 9}
\R{0 0 0 4 2 3 5 5 5 6  7 7 8 9 8 9 8 7 7 8  7 5 6 6 4 3 6 6 2 5}{6 6 6 7 5 4 5 5 2 3  5 5 3 6 4 9 7 6 9 8  8 7 8 9 9 8 9 9 8 9}{9 7 9 8 8 6 7 8 6 6  7 8 8 8 8 8 9 9 8 8  9 9 9 9 9 9 9 9 9}
\R{0 0 2 2 3 5 5 5 6 7  7 8 8 9 9 9 8 8 8 8  7 5 7 7 4 5 7 6 4 6}{7 6 7 7 7 6 6 7 9 6  7 7 6 7 6 8 8 6 8 9  9 8 9 9 9 9 9 9 9 9}{9 8 8 9 9 7 8 9 8 7  9 9 9 9 9 9 9 9 9 9  9 9 9 9 9 9 9 9 9}
\definecolor{cb1}{RGB}{255,0,0}\definecolor{cb2}{RGB}{255,35,0}\definecolor{cb3}{RGB}{255,70,0}\definecolor{cb4}{RGB}{255,105,0}
\definecolor{cb5}{RGB}{255,140,0}\definecolor{cb6}{RGB}{255,170,0}\definecolor{cb7}{RGB}{165,190,130}\definecolor{cb8}{RGB}{155,183,133}
\definecolor{cb9}{RGB}{145,175,140}\definecolor{cb10}{RGB}{135,170,145}\definecolor{cb11}{RGB}{125,160,150}\definecolor{cb12}{RGB}{115,155,160}
\definecolor{cb13}{RGB}{110,150,165}\definecolor{cb14}{RGB}{100,145,175}\definecolor{cb15}{RGB}{95,140,180}\definecolor{cb16}{RGB}{85,135,190}
\begin{document}
\begin{tikzpicture}
\useasboundingbox (0,0) rectangle (500pt,500pt);
\begin{axis}[
  at={(42.17pt,53.25pt)},anchor=south west,scale only axis,width=424.5pt,height=424.4pt,
  xmin=0.47,xmax=89.61,ymin=0.46,ymax=89.48,
  axis line style={line width=1.5pt},
  xtick={20,40,60,80},ytick={20,40,60,80},
  tick align=outside,major tick length=2.6pt,
  tick style={line width=1.1pt,black},
  xticklabel pos=lower,yticklabel pos=left,
  /pgf/number format/assume math mode=true,
  xticklabel style={font=\labfont\fontsize{14.3}{16}\selectfont,yshift=3.2pt},
  yticklabel style={font=\labfont\fontsize{14.3}{16}\selectfont,xshift=4.2pt},
  xlabel={\labfont\fontsize{14.3}{16}\selectfont Residue index},
  ylabel={\labfont\fontsize{14.3}{16}\selectfont Residue index},
  xlabel style={at={(axis description cs:0.5,0)},anchor=center,yshift=-22.4pt},
  ylabel style={at={(axis description cs:0,0.5)},anchor=center,yshift=27pt},
  colormap={cm}{rgb255=(255,0,0) rgb255=(255,70,0) rgb255=(255,105,0) rgb255=(255,140,0) rgb255=(255,170,0) rgb255=(165,190,130) rgb255=(145,175,138) rgb255=(125,160,155) rgb255=(95,140,182) rgb255=(0,0,255)},
  colormap access=piecewise constant,
  point meta min=-0.5,point meta max=9.5,
  axis on top,
]
\begingroup\edef\x{\endgroup\noexpand\addplot[matrix plot*,mesh/cols=89,mesh/ordering=x varies,point meta=explicit] table[row sep=crcr,x index=0,y index=1,meta index=2] {\the\alltoks};}\x
\end{axis}
\begin{axis}[
  at={(472.4pt,53.25pt)},anchor=south west,scale only axis,width=2.75pt,height=424.4pt,
  xmin=0,xmax=1,ymin=0.72,ymax=21.27,
  axis line style={line width=1.25pt},
  xtick=\empty,ytick={5,10,15,20},ytick pos=right,yticklabel pos=right,
  tick align=outside,major tick length=2.4pt,
  tick style={line width=1.0pt,black},
  /pgf/number format/assume math mode=true,
  yticklabel style={font=\labfont\fontsize{11.6}{14}\selectfont,xshift=0pt},
  axis on top,
]
\addplot[fill=cb1,draw=none] coordinates {(0,0.7)(1,0.7)(1,2.02)(0,2.02)} --cycle;
\addplot[fill=cb2,draw=none] coordinates {(0,2.02)(1,2.02)(1,3.30)(0,3.30)} --cycle;
\addplot[fill=cb3,draw=none] coordinates {(0,3.30)(1,3.30)(1,4.59)(0,4.59)} --cycle;
\addplot[fill=cb4,draw=none] coordinates {(0,4.59)(1,4.59)(1,5.87)(0,5.87)} --cycle;
\addplot[fill=cb5,draw=none] coordinates {(0,5.87)(1,5.87)(1,7.16)(0,7.16)} --cycle;
\addplot[fill=cb6,draw=none] coordinates {(0,7.16)(1,7.16)(1,8.44)(0,8.44)} --cycle;
\addplot[fill=cb7,draw=none] coordinates {(0,8.44)(1,8.44)(1,9.72)(0,9.72)} --cycle;
\addplot[fill=cb8,draw=none] coordinates {(0,9.72)(1,9.72)(1,11.01)(0,11.01)} --cycle;
\addplot[fill=cb9,draw=none] coordinates {(0,11.01)(1,11.01)(1,12.29)(0,12.29)} --cycle;
\addplot[fill=cb10,draw=none] coordinates {(0,12.29)(1,12.29)(1,13.58)(0,13.58)} --cycle;
\addplot[fill=cb11,draw=none] coordinates {(0,13.58)(1,13.58)(1,14.86)(0,14.86)} --cycle;
\addplot[fill=cb12,draw=none] coordinates {(0,14.86)(1,14.86)(1,16.15)(0,16.15)} --cycle;
\addplot[fill=cb13,draw=none] coordinates {(0,16.15)(1,16.15)(1,17.43)(0,17.43)} --cycle;
\addplot[fill=cb14,draw=none] coordinates {(0,17.43)(1,17.43)(1,18.71)(0,18.71)} --cycle;
\addplot[fill=cb15,draw=none] coordinates {(0,18.71)(1,18.71)(1,20.0)(0,20.0)} --cycle;
\addplot[fill=blue,draw=none] coordinates {(0,20.0)(1,20.0)(1,21.3)(0,21.3)} --cycle;
\end{axis}
\end{tikzpicture}
\end{document}
